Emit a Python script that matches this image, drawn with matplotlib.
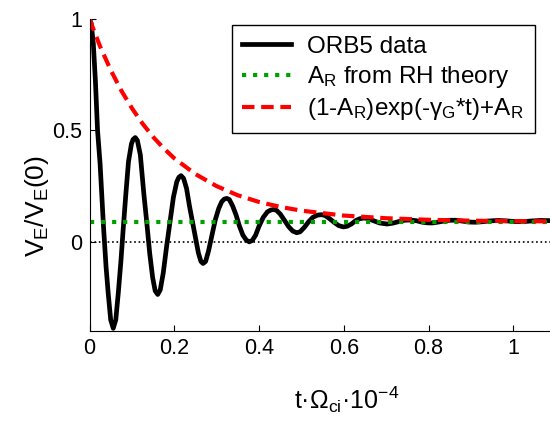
import matplotlib
matplotlib.use('Agg')
import matplotlib.pyplot as plt

plt.rcParams['font.family'] = ['Liberation Sans', 'DejaVu Sans']
plt.rcParams['mathtext.fontset'] = 'custom'
plt.rcParams['mathtext.rm'] = 'Liberation Sans'
plt.rcParams['mathtext.it'] = 'Liberation Sans:italic'

# ORB5 zonal flow
t_orb = [0.000, 0.004, 0.009, 0.014, 0.019, 0.025, 0.033, 0.039, 0.044, 0.050, 0.056,
         0.062, 0.068, 0.074, 0.080, 0.086, 0.092, 0.099, 0.103, 0.108, 0.113,
         0.120, 0.128, 0.135, 0.142, 0.149, 0.155, 0.161, 0.167,
         0.174, 0.182, 0.190, 0.198, 0.206, 0.211, 0.216, 0.222,
         0.229, 0.236, 0.243, 0.250, 0.257, 0.263, 0.268, 0.274,
         0.281, 0.289, 0.297, 0.305, 0.312, 0.318, 0.324, 0.330,
         0.338, 0.346, 0.354, 0.362, 0.370, 0.377, 0.384,
         0.392, 0.400, 0.410, 0.420, 0.428, 0.434, 0.441,
         0.450, 0.460, 0.470, 0.480, 0.489, 0.497,
         0.507, 0.517, 0.527, 0.538, 0.548, 0.556,
         0.566, 0.577, 0.588, 0.599, 0.608,
         0.618, 0.628, 0.638, 0.648, 0.658,
         0.670, 0.684, 0.702, 0.716, 0.730, 0.743, 0.757, 0.771, 0.786, 0.799,
         0.810, 0.824, 0.838, 0.852, 0.865, 0.880, 0.895, 0.910, 0.925, 0.945,
         0.965, 0.985, 1.005, 1.025, 1.045, 1.065, 1.090]
v_orb = [1.000, 0.980, 0.890, 0.720, 0.500, 0.350, 0.070, -0.110, -0.228, -0.350, -0.388,
         -0.350, -0.228, -0.090, 0.070, 0.220, 0.360, 0.440, 0.460, 0.468, 0.455,
         0.390, 0.220, 0.090, -0.050, -0.160, -0.220, -0.236, -0.215,
         -0.140, -0.020, 0.090, 0.200, 0.270, 0.290, 0.297, 0.285,
         0.240, 0.160, 0.090, 0.020, -0.050, -0.088, -0.097, -0.088,
         -0.040, 0.030, 0.100, 0.150, 0.180, 0.192, 0.195, 0.190,
         0.160, 0.120, 0.070, 0.030, 0.008, 0.000, 0.006,
         0.030, 0.070, 0.110, 0.135, 0.143, 0.145, 0.142,
         0.125, 0.097, 0.068, 0.048, 0.041, 0.045,
         0.065, 0.090, 0.110, 0.120, 0.122, 0.118,
         0.105, 0.088, 0.073, 0.067, 0.070,
         0.080, 0.095, 0.104, 0.107, 0.104,
         0.095, 0.085, 0.080, 0.084, 0.091, 0.097, 0.098, 0.095, 0.088, 0.085,
         0.085, 0.089, 0.094, 0.097, 0.097, 0.093, 0.089, 0.088, 0.090, 0.094,
         0.096, 0.094, 0.091, 0.091, 0.094, 0.096, 0.095]

# residual level from Rosenbluth-Hinton
t_rh = [0.0, 1.2]
a_rh = [0.09, 0.09]

# damped envelope
t_fit = [0.0, 0.025, 0.05, 0.075, 0.1, 0.125, 0.15, 0.175, 0.2, 0.25, 0.3, 0.35,
         0.4, 0.45, 0.5, 0.6, 0.7, 0.8, 0.9, 1.0, 1.1]
v_fit = [1.0, 0.877, 0.771, 0.679, 0.600, 0.531, 0.471, 0.420, 0.375, 0.304, 0.250, 0.209,
         0.179, 0.157, 0.140, 0.118, 0.106, 0.099, 0.095, 0.093, 0.092]

fig = plt.figure(figsize=(5.5, 4.23), dpi=100)
ax = fig.add_axes([89.5 / 550, 92 / 423, 508.5 / 550, 312 / 423])

ax.plot([0, 1.2], [0, 0], ':', color='black', lw=1.2)
ax.plot(t_orb, v_orb, '-', color='black', lw=3.4, label='ORB5 data')
ax.plot(t_rh, a_rh, ':', color='#00a000', lw=3.0, label=r'A$_\mathregular{R}$ from RH theory')
ax.plot(t_fit, v_fit, '--', color='#ff0000', lw=3.0, dashes=(3, 1.6),
        label=r'(1-A$_\mathregular{R}$)exp(-$\mathregular{\gamma}_\mathregular{G}$*t)+A$_\mathregular{R}$')

ax.set_xlim(0, 1.2)
ax.set_ylim(-0.4, 1)
ax.set_xticks([0, 0.2, 0.4, 0.6, 0.8, 1])
ax.set_xticklabels(['0', '0.2', '0.4', '0.6', '0.8', '1'])
ax.set_yticks([0, 0.5, 1])
ax.set_yticklabels(['0', '0.5', '1'])
ax.tick_params(direction='in', labelsize=15.5, length=4, pad=5)
for s in ['top', 'right']:
    ax.spines[s].set_visible(False)

ax.set_xlabel(r't·Ω$_\mathregular{ci}$·10$^\mathregular{-4}$', fontsize=18)
ax.xaxis.set_label_coords(0.506, -0.172)
ax.set_ylabel(r'V$_\mathregular{E}$/V$_\mathregular{E}$(0)', fontsize=19)
ax.yaxis.set_label_coords(-0.075, 0.40)

leg = fig.legend(loc='upper left', bbox_to_anchor=(231.5 / 550, 1 - 25 / 423), fontsize=17.5,
                 frameon=True, fancybox=False, edgecolor='black', framealpha=1,
                 borderaxespad=0, handlelength=2.0, handletextpad=0.65,
                 labelspacing=0.25, borderpad=0.45)
leg.get_frame().set_linewidth(1.0)

fig.savefig('out.png', dpi=100)
